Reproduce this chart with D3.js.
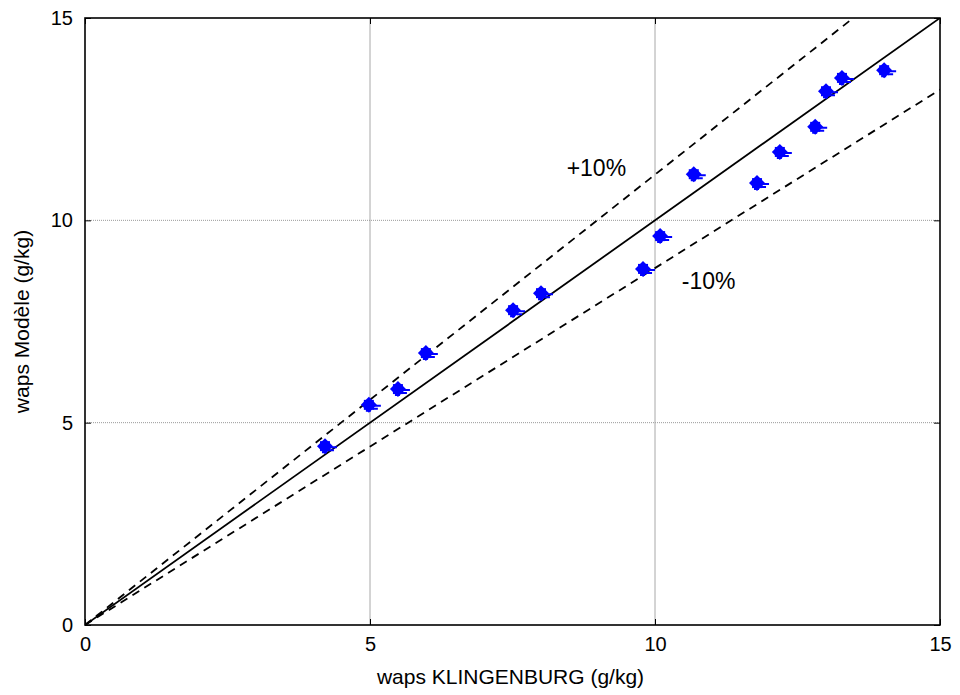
<!DOCTYPE html>
<html>
<head>
<meta charset="utf-8">
<script src="https://cdn.jsdelivr.net/npm/d3@7"></script>
<style>
  body { margin: 0; background: #fff; }
  svg { display: block; font-family: "Liberation Sans", Arial, sans-serif; }
</style>
</head>
<body>
<svg id="chart" width="960" height="695"></svg>
<script>
// Measured humidity ratio: KLINGENBURG reference vs model (g/kg)
const xKlingenburg = [4.21, 4.98, 5.49, 5.98, 7.51, 8.00, 9.79, 10.09, 10.68, 11.79, 12.19, 12.81, 13.00, 13.28, 14.02];
const yModele      = [4.42, 5.44, 5.83, 6.72, 7.78, 8.20, 8.80, 9.61, 11.14, 10.92, 11.69, 12.31, 13.19, 13.52, 13.71];
const tickValues = [0, 5, 10, 15];
const bandFactors = [1.113, 0.882];   // slopes of the upper / lower envelope lines
const bandLabels = [
  { text: "+10%", x: 8.45, y: 11.1 },
  { text: "-10%", x: 10.47, y: 8.3 }
];

const svg = d3.select("#chart");
const plotLeft = 85, plotRight = 940, plotTop = 18, plotBottom = 625;

const x = d3.scaleLinear().domain([0, 15]).range([plotLeft, plotRight]);
const y = d3.scaleLinear().domain([0, 15]).range([plotBottom, plotTop]);

svg.append("defs").append("clipPath").attr("id", "plotClip")
  .append("rect").attr("x", plotLeft).attr("y", plotTop)
  .attr("width", plotRight - plotLeft).attr("height", plotBottom - plotTop);

// grid
const grid = svg.append("g");
tickValues.filter(v => v > 0 && v < 15).forEach(v => {
  grid.append("line").attr("x1", x(v)).attr("x2", x(v)).attr("y1", plotTop).attr("y2", plotBottom)
    .attr("stroke", "#a8a8a8").attr("stroke-width", 1);
  grid.append("line").attr("x1", plotLeft).attr("x2", plotRight).attr("y1", y(v)).attr("y2", y(v))
    .attr("stroke", "#9a9a9a").attr("stroke-width", 1).attr("stroke-dasharray", "1,1");
});

// axes with inward ticks on all four sides
const fmt = d3.format("d");
const axB = d3.axisBottom(x).tickValues(tickValues).tickSizeInner(-6).tickSizeOuter(0).tickPadding(12).tickFormat(fmt);
const axT = d3.axisTop(x).tickValues(tickValues).tickSizeInner(-6).tickSizeOuter(0).tickFormat("");
const axL = d3.axisLeft(y).tickValues(tickValues).tickSizeInner(-6).tickSizeOuter(0).tickPadding(12).tickFormat(fmt);
const axR = d3.axisRight(y).tickValues(tickValues).tickSizeInner(-6).tickSizeOuter(0).tickFormat("");

function styleAxis(g) {
  g.select(".domain").remove();
  g.selectAll(".tick line").attr("stroke", "#000").attr("stroke-width", 1);
  g.selectAll(".tick text").attr("fill", "#000").style("font-size", "20px")
    .style("font-family", "'Liberation Sans', Arial, sans-serif");
}
svg.append("g").attr("transform", `translate(0,${plotBottom})`).call(axB).call(styleAxis);
svg.append("g").attr("transform", `translate(0,${plotTop})`).call(axT).call(styleAxis);
svg.append("g").attr("transform", `translate(${plotLeft},0)`).call(axL).call(styleAxis);
svg.append("g").attr("transform", `translate(${plotRight},0)`).call(axR).call(styleAxis);

// frame
svg.append("rect").attr("x", plotLeft).attr("y", plotTop)
  .attr("width", plotRight - plotLeft).attr("height", plotBottom - plotTop)
  .attr("fill", "none").attr("stroke", "#000").attr("stroke-width", 1.6);

// reference lines
const plot = svg.append("g").attr("clip-path", "url(#plotClip)");
const line = d3.line().x(d => x(d[0])).y(d => y(d[1]));
plot.append("path").datum([[0, 0], [15, 15]]).attr("d", line)
  .attr("fill", "none").attr("stroke", "#000").attr("stroke-width", 1.8);
bandFactors.forEach(f => {
  plot.append("path").datum([[0, 0], [15, 15 * f]]).attr("d", line)
    .attr("fill", "none").attr("stroke", "#000").attr("stroke-width", 1.8)
    .attr("stroke-dasharray", "8,6");
});

// markers: filled diamond with short trailing strokes
const marker = "M0,-8 L8,0 L0,8 L-8,0 Z";
const pts = plot.append("g");
xKlingenburg.forEach((xv, i) => {
  const g = pts.append("g").attr("transform", `translate(${x(xv)},${y(yModele[i])})`);
  g.append("path").attr("d", marker).attr("fill", "#0000ff");
  g.append("rect").attr("x", -5).attr("y", -5).attr("width", 10).attr("height", 10).attr("fill", "#0000ff");
  g.append("path").attr("d", "M4,1 L12,1 M4,4 L9,4 M-3,6 L2,6")
    .attr("stroke", "#0000ff").attr("stroke-width", 2).attr("fill", "none");
});

// band labels
bandLabels.forEach(l => {
  svg.append("text").attr("x", x(l.x)).attr("y", y(l.y)).text(l.text)
    .style("font-size", "23px").attr("fill", "#000");
});

// axis titles
svg.append("text").attr("x", (plotLeft + plotRight) / 2 - 2).attr("y", 684).attr("text-anchor", "middle")
  .style("font-size", "21px").text("waps KLINGENBURG (g/kg)");
svg.append("text").attr("transform", `translate(29,${(plotTop + plotBottom) / 2}) rotate(-90)`)
  .attr("text-anchor", "middle").style("font-size", "21px").text("waps Modèle (g/kg)");
</script>
</body>
</html>
